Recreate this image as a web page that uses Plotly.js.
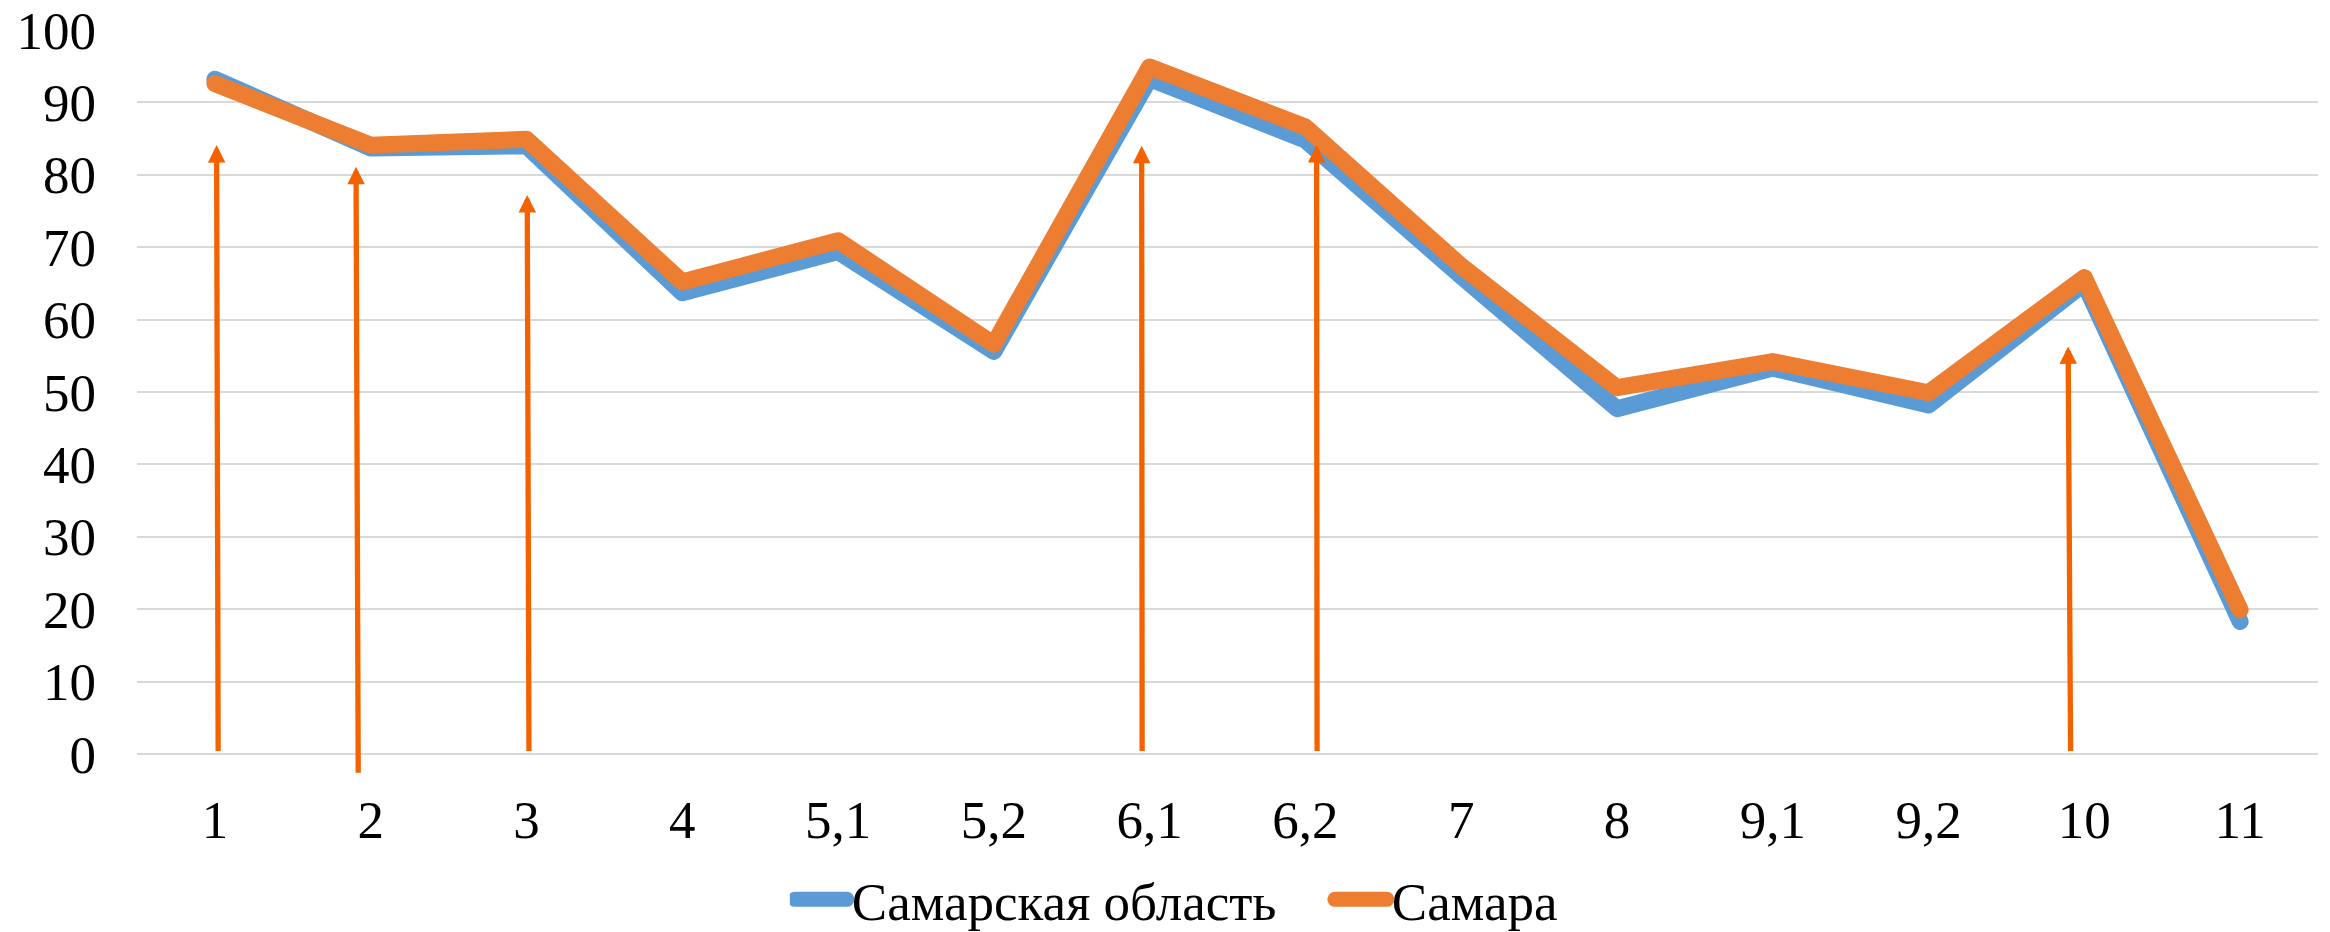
<!DOCTYPE html>
<html>
<head>
<meta charset="utf-8">
<script src="https://cdn.plot.ly/plotly-3.0.1.min.js"></script>
<style>
  html, body { margin: 0; padding: 0; background: #ffffff; }
  #chart { width: 2330px; height: 932px; }
  .js-line { stroke-linejoin: round !important; stroke-linecap: round !important; }
  .legendlines path { stroke-width: 15px !important; stroke-linecap: round !important; }
</style>
</head>
<body>
<div id="chart"></div>
<script>
// ---- data ----
const categories = ["1", "2", "3", "4", "5,1", "5,2", "6,1", "6,2", "7", "8", "9,1", "9,2", "10", "11"];
const seriesNames = ["Самарская область", "Самара"];
const regionValues = [93.2, 83.7, 84.0, 63.7, 69.4, 55.6, 93.3, 84.8, 66.0, 47.7, 53.3, 48.2, 65.0, 18.3];
const cityValues   = [92.6, 84.1, 84.9, 65.2, 70.9, 56.6, 94.9, 86.6, 67.4, 50.6, 54.2, 49.9, 65.8, 19.9];
const yTicks = [0, 10, 20, 30, 40, 50, 60, 70, 80, 90, 100];

// arrows (category-index positions, values)
const arrowTipX  = [0.011, 0.906, 2.005, 5.949, 7.072, 11.896];
const arrowBaseX = [0.021, 0.920, 2.016, 5.952, 7.075, 11.912];
const arrowTipY  = [84.1, 81.1, 77.2, 84.0, 84.1, 56.3];
const arrowBaseY = [0.2, -2.8, 0.2, 0.2, 0.2, 0.2];

// ---- styles ----
const FONT = "'Liberation Serif', 'Times New Roman', serif";
const BLUE = "#5B9BD5";
const ORANGE = "#ED7D31";
const ARROW = "#F46200";

const traces = [
  {
    x: categories, y: regionValues, name: seriesNames[0], type: "scatter", mode: "lines",
    line: { color: BLUE, width: 17 }, hoverinfo: "skip"
  },
  {
    x: categories, y: cityValues, name: seriesNames[1], type: "scatter", mode: "lines",
    line: { color: ORANGE, width: 17 }, hoverinfo: "skip"
  }
];

const annotations = arrowTipX.map((tx, i) => ({
  x: tx, y: arrowTipY[i], xref: "x", yref: "y",
  ax: arrowBaseX[i], ay: arrowBaseY[i], axref: "x", ayref: "y",
  text: "", showarrow: true, arrowhead: 2, arrowsize: 0.66, arrowwidth: 5.3,
  arrowcolor: ARROW, standoff: 0, startstandoff: 0
}));

const layout = {
  width: 2330, height: 932,
  paper_bgcolor: "#ffffff", plot_bgcolor: "#ffffff",
  margin: { l: 137, r: 12, t: 30, b: 178 },
  font: { family: FONT, size: 53, color: "#000000" },
  showlegend: true,
  legend: {
    orientation: "h", xref: "container", yref: "container",
    x: 0.339, xanchor: "left", y: 0.035, yanchor: "middle",
    font: { family: FONT, size: 53, color: "#000000" },
    itemwidth: 52, entrywidth: 473, traceorder: "normal",
    itemclick: false, itemdoubleclick: false
  },
  xaxis: {
    type: "category", categoryorder: "array", categoryarray: categories,
    range: [-0.5, categories.length - 0.5], autorange: false,
    showgrid: false, showline: false, zeroline: false, ticks: "",
    tickfont: { family: FONT, size: 53, color: "#000000" },
    ticklabelstandoff: 30, fixedrange: true
  },
  yaxis: {
    range: [0, 100], tickmode: "array", tickvals: yTicks, ticktext: yTicks.map(String),
    showgrid: true, gridcolor: "#D9D9D9", gridwidth: 2,
    zeroline: true, zerolinecolor: "#D9D9D9", zerolinewidth: 2,
    showline: false, ticks: "",
    tickfont: { family: FONT, size: 53, color: "#000000" },
    ticklabelstandoff: 40, fixedrange: true
  },
  annotations: annotations
};

Plotly.newPlot("chart", traces, layout, { staticPlot: true, displayModeBar: false });
</script>
</body>
</html>
